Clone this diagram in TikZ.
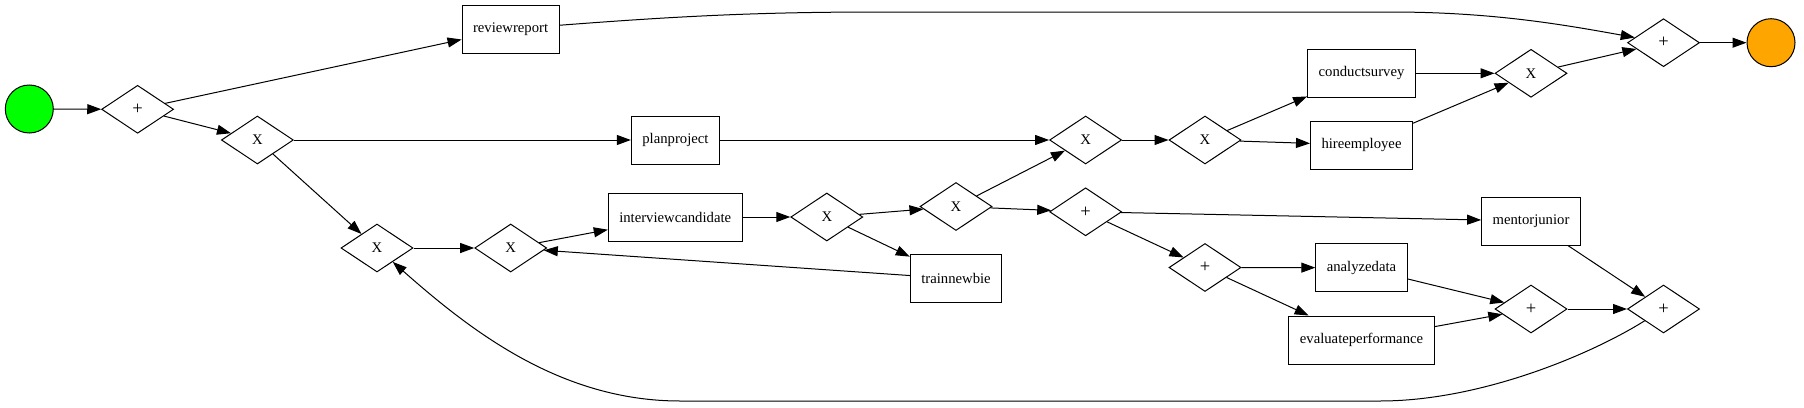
\documentclass[tikz,border=0pt]{standalone}
\usepackage{fontspec}
\setmainfont{Liberation Serif}
\usetikzlibrary{shapes.geometric,arrows.meta}
\newcommand{\plusmark}{{\fontsize{18.5}{20}\selectfont +}}
\begin{document}
\begin{tikzpicture}[x=1pt,y=-1pt,
  every node/.style={font=\fontsize{14.7}{17}\selectfont},
  gw/.style={draw, diamond, minimum width=72pt, minimum height=48pt, inner sep=0pt, line width=1pt},
  task/.style={draw, rectangle, minimum height=48pt, inner xsep=11pt, inner ysep=0pt, line width=1pt},
  ev/.style={draw, circle, minimum size=48pt, inner sep=0pt, line width=1pt},
  flow/.style={line width=1pt, -{Triangle[length=14pt,width=10pt]}}]
\useasboundingbox (0,0) rectangle (1804,407);
% events
\node[ev, fill={rgb,255:red,0;green,255;blue,0}] (start) at (29.3,109) {};
\node[ev, fill={rgb,255:red,255;green,165;blue,0}] (end) at (1771,42.7) {};
% gateways
\node[gw] (P1) at (137.6,109.3) {\plusmark};
\node[gw] (X1) at (257.4,140) {X};
\node[gw] (X2) at (377,248) {X};
\node[gw] (X3) at (510.7,248) {X};
\node[gw] (X4) at (826.8,217) {X};
\node[gw] (X5) at (956,206.5) {X};
\node[gw] (X6) at (1085.6,140) {X};
\node[gw] (P2) at (1085.6,211.8) {\plusmark};
\node[gw] (X7) at (1205,140) {X};
\node[gw] (P3) at (1205,267.5) {\plusmark};
\node[gw] (X8) at (1531,73.3) {X};
\node[gw] (P4) at (1663.5,42.7) {\plusmark};
\node[gw] (P5) at (1531,309) {\plusmark};
\node[gw] (P6) at (1663.5,309) {\plusmark};
% tasks
\node[task] (rr) at (510.6,29) {reviewreport};
\node[task] (pp) at (675.4,140) {planproject};
\node[task] (ic) at (675.2,217) {interviewcandidate};
\node[task] (tn) at (956,278.7) {trainnewbie};
\node[task] (cs) at (1361.5,73.3) {conductsurvey};
\node[task] (he) at (1361.5,145) {hireemployee};
\node[task] (mj) at (1531,221) {mentorjunior};
\node[task] (ad) at (1361.5,267.7) {analyzedata};
\node[task] (ep) at (1361.5,340) {evaluateperformance};
% flows
\draw[flow] (start) -- (P1);
\draw[flow] (P1) -- (rr);
\draw[flow] (P1) -- (X1);
\draw[flow] (X1) -- (pp);
\draw[flow] (X1) -- (X2);
\draw[flow] (X2) -- (X3);
\draw[flow] (X3) -- (ic);
\draw[flow] (tn) -- (X3);
\draw[flow] (ic) -- (X4);
\draw[flow] (X4) -- (X5);
\draw[flow] (X4) -- (tn);
\draw[flow] (X5) -- (X6);
\draw[flow] (X5) -- (P2);
\draw[flow] (pp) -- (X6);
\draw[flow] (X6) -- (X7);
\draw[flow] (X7) -- (cs);
\draw[flow] (X7) -- (he);
\draw[flow] (cs) -- (X8);
\draw[flow] (he) -- (X8);
\draw[flow] (X8) -- (P4);
\draw[flow] (rr) .. controls (680,16) and (760,12) .. (880,12) -- (1390,12) .. controls (1490,12) and (1560,24) .. (P4);
\draw[flow] (P4) -- (end);
\draw[flow] (P2) -- (mj);
\draw[flow] (P2) -- (P3);
\draw[flow] (P3) -- (ad);
\draw[flow] (P3) -- (ep);
\draw[flow] (ad) -- (P5);
\draw[flow] (ep) -- (P5);
\draw[flow] (P5) -- (P6);
\draw[flow] (mj) -- (P6);
\draw[flow] (P6) .. controls (1590,355) and (1480,401) .. (1380,401) -- (680,401) .. controls (560,401) and (470,330) .. (X2);
\end{tikzpicture}
\end{document}
